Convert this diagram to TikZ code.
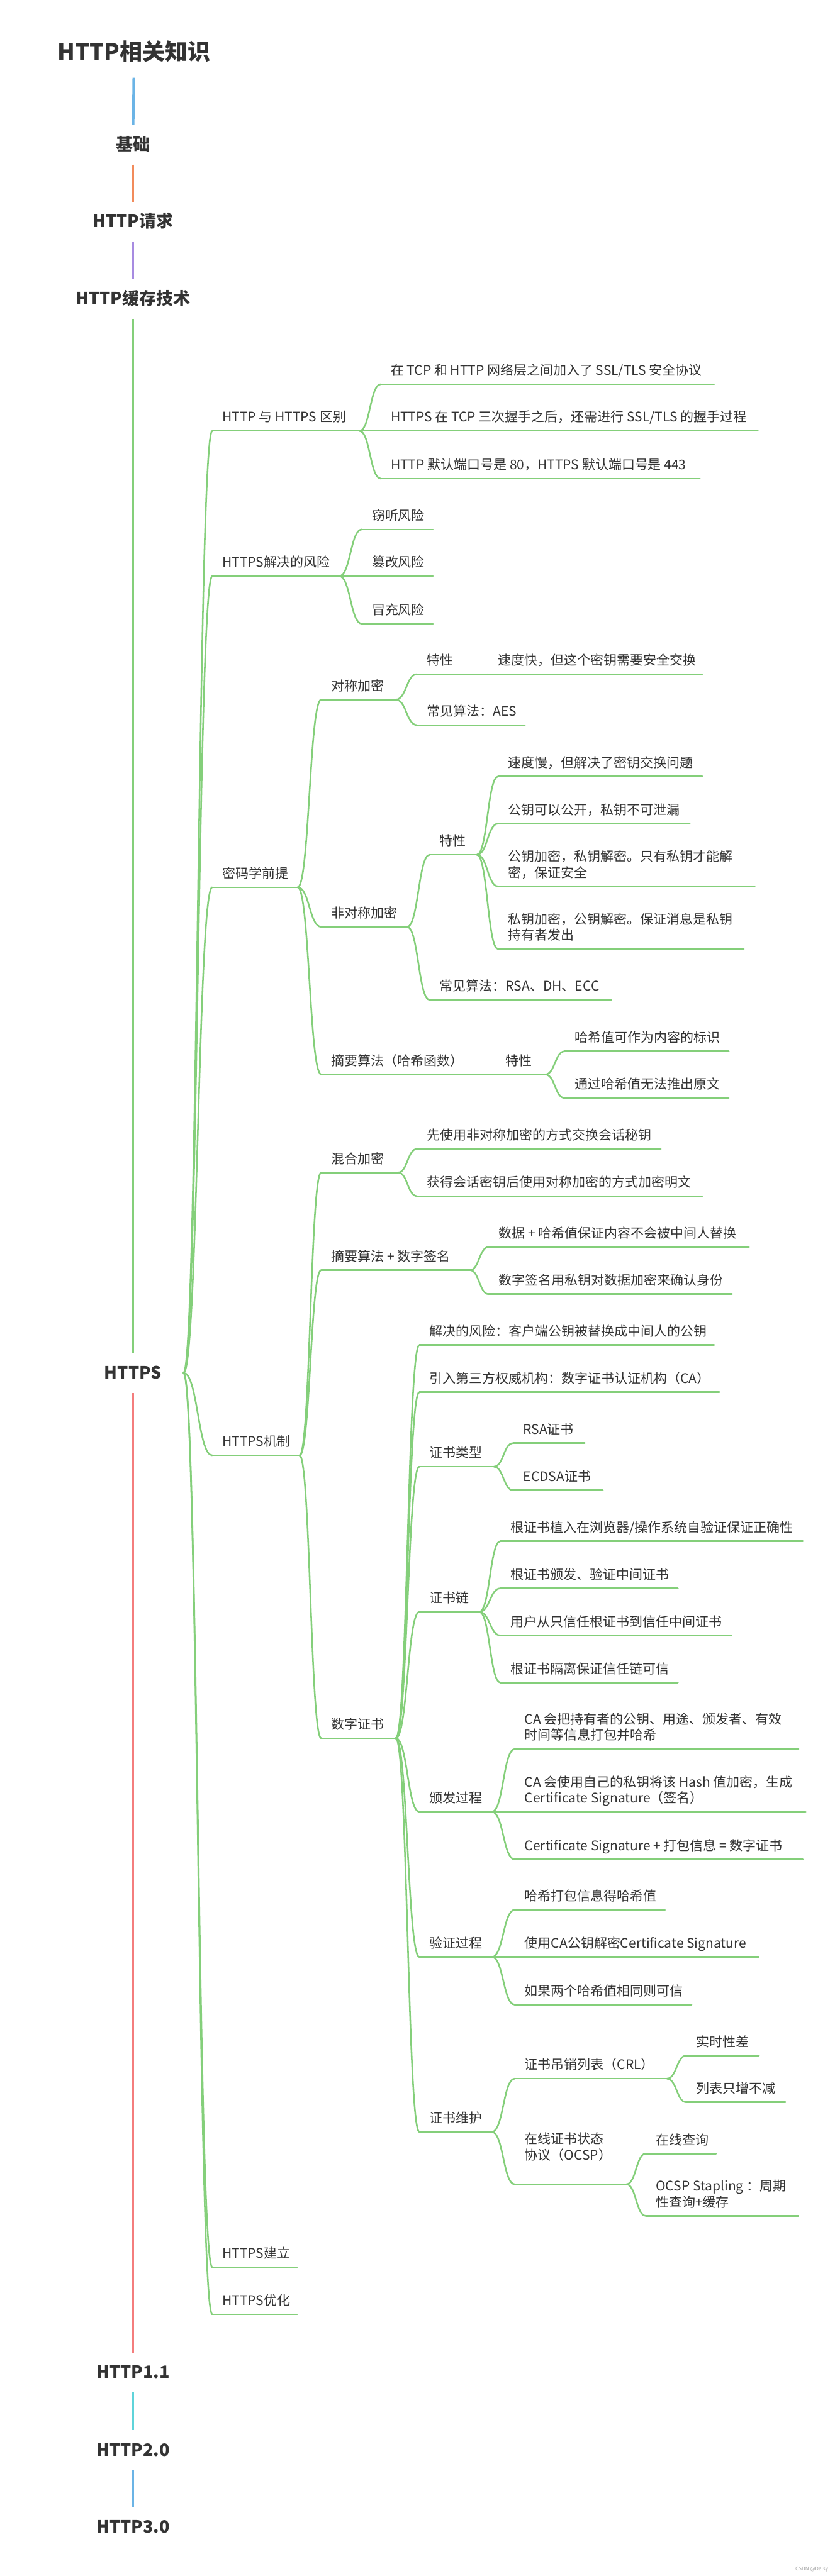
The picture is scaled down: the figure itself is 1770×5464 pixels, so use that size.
\documentclass[tikz,border=0pt]{standalone}
\usepackage{fontspec}
\setmainfont{Noto Sans CJK SC}
\usetikzlibrary{calc}
\definecolor{txtc}{RGB}{51,51,51}
\definecolor{cblue}{RGB}{107,180,230}
\definecolor{corange}{RGB}{242,139,91}
\definecolor{cpurple}{RGB}{167,139,225}
\definecolor{cgreen}{RGB}{132,207,122}
\definecolor{cred}{RGB}{244,125,125}
\definecolor{ccyan}{RGB}{95,212,218}
\definecolor{wmgray}{RGB}{165,165,165}
\newcommand\ml[1]{\begin{tabular}[b]{@{}l@{}}#1\end{tabular}}
\newcommand\mtopic[6][0]{%
  \coordinate (#2-s) at (#3,#5);
  \coordinate (#2-e) at (#4,#5);
  \draw[br] (#2-s) -- (#2-e);
  \node[txt] (#2) at (#3+21,#5-19-#1) {#6};
}
\newcommand\mlink[2]{%
  \draw[br] let \p1=(#1-e), \p2=(#2-s) in
    (\p1) .. controls ({(\x1+\x2)/2},\y1) and ({(\x1+\x2)/2},\y2) .. (\p2);
}
\begin{document}
\begin{tikzpicture}[x=0.5pt,y=-0.5pt,
  br/.style={draw=cgreen, line width=1.7pt, line cap=round},
  txt/.style={anchor=base west, inner sep=0pt, text=txtc, font=\fontsize{14}{17}\selectfont},
  rootnode/.style={anchor=center, inner sep=0pt, text=txtc, font=\fontsize{18}{22}\selectfont\bfseries},
  titlenode/.style={anchor=center, inner sep=0pt, text=txtc, font=\fontsize{24}{28}\selectfont\bfseries},
  rl/.style={line width=2.6pt, shorten <=21.5pt, shorten >=20.5pt},
  wm/.style={anchor=center, inner sep=0pt, text=wmgray, font=\fontsize{5.5}{6}\selectfont}]
\fill[white] (0,0) rectangle (1770,5464);
\useasboundingbox (0,0) rectangle (1770,5464);

% main column
\node[titlenode] (root) at (284,109) {HTTP相关知识};
\node[rootnode] (jc) at (282,306) {基础};
\node[rootnode] (req) at (282,469) {HTTP请求};
\node[rootnode] (cache) at (282,633) {HTTP缓存技术};
\node[rootnode] (https) at (282,2912) {HTTPS};
\node[rootnode] (h11) at (282,5031) {HTTP1.1};
\node[rootnode] (h20) at (282,5196) {HTTP2.0};
\node[rootnode] (h30) at (282,5360) {HTTP3.0};

\draw[rl, draw=cblue, shorten <=28pt] (root.center) -- (jc.center);
\draw[rl, draw=corange] (jc.center) -- (req.center);
\draw[rl, draw=cpurple] (req.center) -- (cache.center);
\draw[rl, draw=cgreen] (cache.center) -- (https.center);
\draw[rl, draw=cred] (https.center) -- (h11.center);
\draw[rl, draw=ccyan] (h11.center) -- (h20.center);
\draw[rl, draw=cblue] (h20.center) -- (h30.center);

\coordinate (https-e) at ([xshift=23pt]https.east);

% HTTPS subtree
\mtopic{a}{450}{762}{914}{HTTP 与 HTTPS 区别}
\mtopic{a1}{807}{1514}{815}{在 TCP 和 HTTP 网络层之间加入了 SSL/TLS 安全协议}
\mtopic{a2}{807}{1607}{914}{HTTPS 在 TCP 三次握手之后，还需进行 SSL/TLS 的握手过程}
\mtopic{a3}{807}{1484}{1015}{HTTP 默认端口号是 80，HTTPS 默认端口号是 443}

\mtopic{b}{450}{719}{1222}{HTTPS解决的风险}
\mtopic{b1}{767}{918}{1123}{窃听风险}
\mtopic{b2}{767}{918}{1222}{篡改风险}
\mtopic{b3}{767}{918}{1323}{冒充风险}

\mtopic{c}{450}{631}{1882}{密码学前提}
\mtopic{c1}{681}{839}{1484}{对称加密}
\mtopic{c1a}{884}{1034}{1430}{特性}
\mtopic{c1a1}{1034}{1489}{1430}{速度快，但这个密钥需要安全交换}
\mtopic{c1b}{884}{1113}{1538}{常见算法：AES}
\mtopic{c2}{681}{863}{1966}{非对称加密}
\mtopic{c2a}{911}{1011}{1813}{特性}
\mtopic{c2a1}{1056}{1489}{1647}{速度慢，但解决了密钥交换问题}
\mtopic{c2a2}{1056}{1462}{1747}{公钥可以公开，私钥不可泄漏}
\mtopic{c2a3}{1056}{1600}{1880}{\ml{公钥加密，私钥解密。只有私钥才能解\\密，保证安全}}
\mtopic{c2a4}{1056}{1577}{2013}{\ml{私钥加密，公钥解密。保证消息是私钥\\持有者发出}}
\mtopic{c2b}{911}{1296}{2121}{常见算法：RSA、DH、ECC}
\mtopic{c3}{681}{1050}{2279}{摘要算法（哈希函数）}
\mtopic{c3a}{1050}{1156}{2279}{特性}
\mtopic{c3a1}{1197}{1545}{2230}{哈希值可作为内容的标识}
\mtopic{c3a2}{1197}{1545}{2329}{通过哈希值无法推出原文}

\mtopic{d}{450}{635}{3087}{HTTPS机制}
\mtopic{d1}{681}{844}{2487}{混合加密}
\mtopic{d1a}{884}{1401}{2437}{先使用非对称加密的方式交换会话秘钥}
\mtopic{d1b}{884}{1489}{2537}{获得会话密钥后使用对称加密的方式加密明文}
\mtopic{d2}{681}{996}{2694}{摘要算法 + 数字签名}
\mtopic{d2a}{1036}{1588}{2645}{数据 + 哈希值保证内容不会被中间人替换}
\mtopic{d2b}{1036}{1552}{2745}{数字签名用私钥对数据加密来确认身份}
\mtopic{d3}{681}{839}{3687}{数字证书}
\mtopic{d3a}{889}{1514}{2853}{解决的风险：客户端公钥被替换成中间人的公钥}
\mtopic{d3b}{889}{1525}{2953}{引入第三方权威机构：数字证书认证机构（CA）}
\mtopic{d3c}{889}{1047}{3111}{证书类型}
\mtopic{d3c1}{1088}{1240}{3061}{RSA证书}
\mtopic{d3c2}{1088}{1278}{3161}{ECDSA证书}
\mtopic{d3d}{889}{1016}{3419}{证书链}
\mtopic{d3d1}{1061}{1702}{3269}{根证书植入在浏览器/操作系统自验证保证正确性}
\mtopic{d3d2}{1061}{1437}{3369}{根证书颁发、验证中间证书}
\mtopic{d3d3}{1061}{1550}{3469}{用户从只信任根证书到信任中间证书}
\mtopic{d3d4}{1061}{1437}{3569}{根证书隔离保证信任链可信}
\mtopic{d3e}{889}{1043}{3843}{颁发过程}
\mtopic{d3e1}{1091}{1693}{3710}{\ml{CA 会把持有者的公钥、用途、颁发者、有效\\时间等信息打包并哈希}}
\mtopic{d3e2}{1091}{1708}{3843}{\ml{CA 会使用自己的私钥将该 Hash 值加密，生成\\Certificate Signature（签名）}}
\mtopic{d3e3}{1091}{1702}{3944}{Certificate Signature + 打包信息 = 数字证书}
\mtopic{d3f}{889}{1043}{4151}{验证过程}
\mtopic{d3f1}{1091}{1410}{4051}{哈希打包信息得哈希值}
\mtopic{d3f2}{1091}{1609}{4151}{使用CA公钥解密Certificate Signature}
\mtopic{d3f3}{1091}{1466}{4252}{如果两个哈希值相同则可信}
\mtopic{d3g}{889}{1043}{4522}{证书维护}
\mtopic{d3g1}{1091}{1414}{4409}{证书吊销列表（CRL）}
\mtopic{d3g1a}{1455}{1609}{4360}{实时性差}
\mtopic{d3g1b}{1455}{1665}{4459}{列表只增不减}
\mtopic[33]{d3g2}{1091}{1328}{4633}{\ml{在线证书状态\\协议（OCSP）}}
\mtopic{d3g2a}{1369}{1518}{4568}{在线查询}
\mtopic{d3g2b}{1369}{1693}{4700}{\ml{OCSP Stapling ：周期\\性查询+缓存}}

\mtopic{e}{450}{630}{4809}{HTTPS建立}
\mtopic{f}{450}{630}{4909}{HTTPS优化}

% connectors
\foreach \c in {a,b,c,d,e,f} {\mlink{https}{\c}}
\foreach \c in {a1,a2,a3} {\mlink{a}{\c}}
\foreach \c in {b1,b2,b3} {\mlink{b}{\c}}
\foreach \c in {c1,c2,c3} {\mlink{c}{\c}}
\foreach \c in {c1a,c1b} {\mlink{c1}{\c}}
\mlink{c1a}{c1a1}
\foreach \c in {c2a,c2b} {\mlink{c2}{\c}}
\foreach \c in {c2a1,c2a2,c2a3,c2a4} {\mlink{c2a}{\c}}
\mlink{c3}{c3a}
\foreach \c in {c3a1,c3a2} {\mlink{c3a}{\c}}
\foreach \c in {d1,d2,d3} {\mlink{d}{\c}}
\foreach \c in {d1a,d1b} {\mlink{d1}{\c}}
\foreach \c in {d2a,d2b} {\mlink{d2}{\c}}
\foreach \c in {d3a,d3b,d3c,d3d,d3e,d3f,d3g} {\mlink{d3}{\c}}
\foreach \c in {d3c1,d3c2} {\mlink{d3c}{\c}}
\foreach \c in {d3d1,d3d2,d3d3,d3d4} {\mlink{d3d}{\c}}
\foreach \c in {d3e1,d3e2,d3e3} {\mlink{d3e}{\c}}
\foreach \c in {d3f1,d3f2,d3f3} {\mlink{d3f}{\c}}
\foreach \c in {d3g1,d3g2} {\mlink{d3g}{\c}}
\foreach \c in {d3g1a,d3g1b} {\mlink{d3g1}{\c}}
\foreach \c in {d3g2a,d3g2b} {\mlink{d3g2}{\c}}

\node[wm] (wmark) at (1721,5450) {CSDN @Daisy};
\end{tikzpicture}
\end{document}
